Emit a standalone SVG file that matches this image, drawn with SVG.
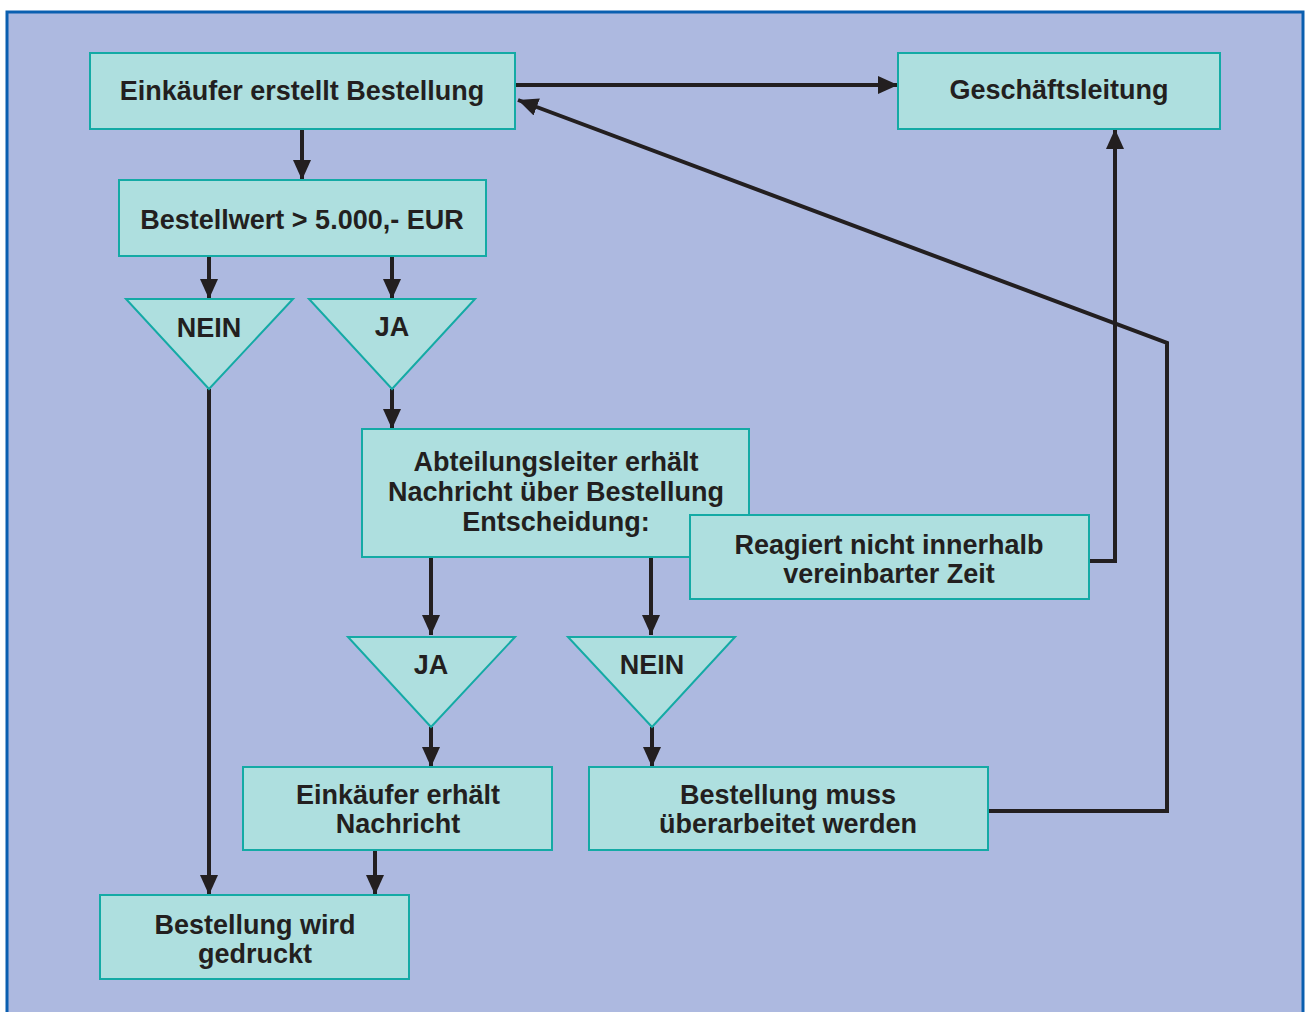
<svg xmlns="http://www.w3.org/2000/svg" width="1306" height="1012" viewBox="0 0 1306 1012">
<defs>
<style>
.box{fill:#aedfdf;stroke:#14aaa5;stroke-width:2}
.t{font-family:'Liberation Sans',Arial,Helvetica,sans-serif;font-weight:700;font-size:27px;fill:#231f20;text-anchor:middle}
.c{fill:none;stroke:#231f20;stroke-width:4}
</style>
<marker id="ah" markerUnits="userSpaceOnUse" markerWidth="20" markerHeight="18" refX="20" refY="9" orient="auto">
<path d="M0,0 L20,9 L0,18 Z" fill="#231f20"/>
</marker>
</defs>
<rect x="0" y="0" width="1306" height="1012" fill="#ffffff"/>
<rect x="7" y="12" width="1296" height="1010" fill="#adb9e0" stroke="#0a5fb0" stroke-width="3"/>
<g id="connectors">
<path class="c" d="M302,129 V180" marker-end="url(#ah)"/>
<path class="c" d="M515,85 H898" marker-end="url(#ah)"/>
<path class="c" d="M209,256 V299" marker-end="url(#ah)"/>
<path class="c" d="M392,256 V299" marker-end="url(#ah)"/>
<path class="c" d="M392,389 V429" marker-end="url(#ah)"/>
<path class="c" d="M209,389 V895" marker-end="url(#ah)"/>
<path class="c" d="M431,557 V635" marker-end="url(#ah)"/>
<path class="c" d="M651,557 V635" marker-end="url(#ah)"/>
<path class="c" d="M431,727 V767" marker-end="url(#ah)"/>
<path class="c" d="M652,727 V767" marker-end="url(#ah)"/>
<path class="c" d="M375,850 V895" marker-end="url(#ah)"/>
<path class="c" d="M1089,561 H1115 V129" marker-end="url(#ah)"/>
<path class="c" d="M988,811 H1167 V343 L518,100" marker-end="url(#ah)"/>
</g>
<g id="n1"><rect class="box" x="90" y="53" width="425" height="76"/><text class="t" x="302" y="100">Einkäufer erstellt Bestellung</text></g>
<g id="n2"><rect class="box" x="898" y="53" width="322" height="76"/><text class="t" x="1059" y="99">Geschäftsleitung</text></g>
<g id="n3"><rect class="box" x="119" y="180" width="367" height="76"/><text class="t" x="302" y="229">Bestellwert &gt; 5.000,- EUR</text></g>
<g id="n4"><polygon class="box" points="126,299 293,299 209,389"/><text class="t" x="209" y="337">NEIN</text></g>
<g id="n5"><polygon class="box" points="309,299 475,299 392,389"/><text class="t" x="392" y="336">JA</text></g>
<g id="n6"><rect class="box" x="362" y="429" width="387" height="128"/><text class="t" x="556" y="471">Abteilungsleiter erhält</text><text class="t" x="556" y="501">Nachricht über Bestellung</text><text class="t" x="556" y="531">Entscheidung:</text></g>
<g id="n7"><rect class="box" x="690" y="515" width="399" height="84"/><text class="t" x="889" y="554">Reagiert nicht innerhalb</text><text class="t" x="889" y="583">vereinbarter Zeit</text></g>
<g id="n8"><polygon class="box" points="348,637 515,637 431,727"/><text class="t" x="431" y="674">JA</text></g>
<g id="n9"><polygon class="box" points="568,637 735,637 652,727"/><text class="t" x="652" y="674">NEIN</text></g>
<g id="n10"><rect class="box" x="243" y="767" width="309" height="83"/><text class="t" x="398" y="804">Einkäufer erhält</text><text class="t" x="398" y="833">Nachricht</text></g>
<g id="n11"><rect class="box" x="589" y="767" width="399" height="83"/><text class="t" x="788" y="804">Bestellung muss</text><text class="t" x="788" y="833">überarbeitet werden</text></g>
<g id="n12"><rect class="box" x="100" y="895" width="309" height="84"/><text class="t" x="255" y="934">Bestellung wird</text><text class="t" x="255" y="963">gedruckt</text></g>
</svg>
